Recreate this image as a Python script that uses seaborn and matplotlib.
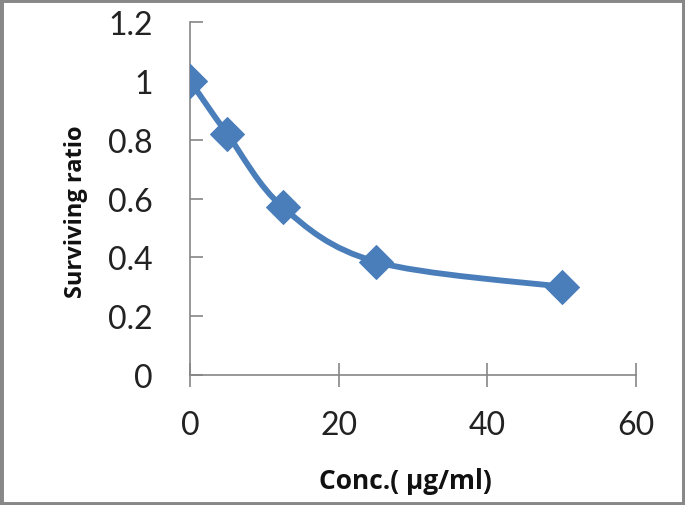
import numpy as np
import matplotlib
matplotlib.use("Agg")
import matplotlib.pyplot as plt
from matplotlib.path import Path
from matplotlib.patches import PathPatch, Rectangle
import seaborn as sns
import pandas as pd

conc = [0, 5, 12.5, 25, 50]
ratio = [1.0, 0.82, 0.57, 0.385, 0.30]
x_ticks = [0, 20, 40, 60]
y_ticks = [0, 0.2, 0.4, 0.6, 0.8, 1, 1.2]
y_tick_labels = ["0", "0.2", "0.4", "0.6", "0.8", "1", "1.2"]

df = pd.DataFrame({"conc": conc, "ratio": ratio})

sns.set_style("white")
plt.rcParams["font.family"] = ["Lato", "DejaVu Sans"]

color = "#4A7EBB"
gray = "#868686"

fig = plt.figure(figsize=(6.85, 5.06), dpi=100)
ax = fig.add_axes([190 / 685, 1 - 376 / 506, 446 / 685, 353 / 506])

# smooth (Excel-like) curve through the data points using Catmull-Rom Bezier segments
pts = np.column_stack([df["conc"].to_numpy(float), df["ratio"].to_numpy(float)])
verts = [tuple(pts[0])]
codes = [Path.MOVETO]
n = len(pts)
for i in range(n - 1):
    p0 = pts[i - 1] if i > 0 else pts[i]
    p1 = pts[i]
    p2 = pts[i + 1]
    p3 = pts[i + 2] if i + 2 < n else pts[i + 1]
    c1 = p1 + (p2 - p0) / 6.0
    c2 = p2 - (p3 - p1) / 6.0
    verts += [tuple(c1), tuple(c2), tuple(p2)]
    codes += [Path.CURVE4] * 3
ax.add_patch(PathPatch(Path(verts, codes), facecolor="none", edgecolor=color,
                       linewidth=4.2, capstyle="round", joinstyle="round", zorder=2))

sns.lineplot(data=df, x="conc", y="ratio", ax=ax, linestyle="none", marker="D",
             markersize=17, color=color, markeredgecolor=color, zorder=3)

ax.set_xlim(0, 60)
ax.set_ylim(0, 1.2)
ax.set_xticks(x_ticks)
ax.set_xticklabels([str(t) for t in x_ticks])
ax.set_yticks(y_ticks)
ax.set_yticklabels(y_tick_labels)

for s in ["top", "right"]:
    ax.spines[s].set_visible(False)
for s in ["left", "bottom"]:
    ax.spines[s].set_color(gray)
    ax.spines[s].set_linewidth(1.2)

ax.tick_params(axis="x", direction="inout", length=17, width=1.2, color=gray,
               labelsize=23, pad=17, labelcolor="#222222")
ax.tick_params(axis="y", direction="in", length=9, width=1.2, color=gray,
               labelsize=23, pad=27, labelcolor="#222222")
ax.xaxis.set_ticks_position("bottom")
ax.yaxis.set_ticks_position("left")

ax.set_xlabel("Conc.( µg/ml)", fontsize=19, fontweight="bold", color="#111111",
              family=["Open Sans", "DejaVu Sans"])
ax.set_ylabel("Surviving ratio", fontsize=17, fontweight="bold", color="#111111",
              family=["Open Sans", "DejaVu Sans"])
ax.xaxis.set_label_coords((405 - 190) / 446, (376 - 482) / 353)
ax.yaxis.set_label_coords((76 - 190) / 446, (376 - 212) / 353)
ax.xaxis.label.set_va("center")
ax.yaxis.label.set_va("center")

fig.patches.append(Rectangle((0, 0), 1, 1, transform=fig.transFigure, fill=False,
                             edgecolor="#888888", linewidth=5, zorder=10))

fig.savefig("out.png", dpi=100)
